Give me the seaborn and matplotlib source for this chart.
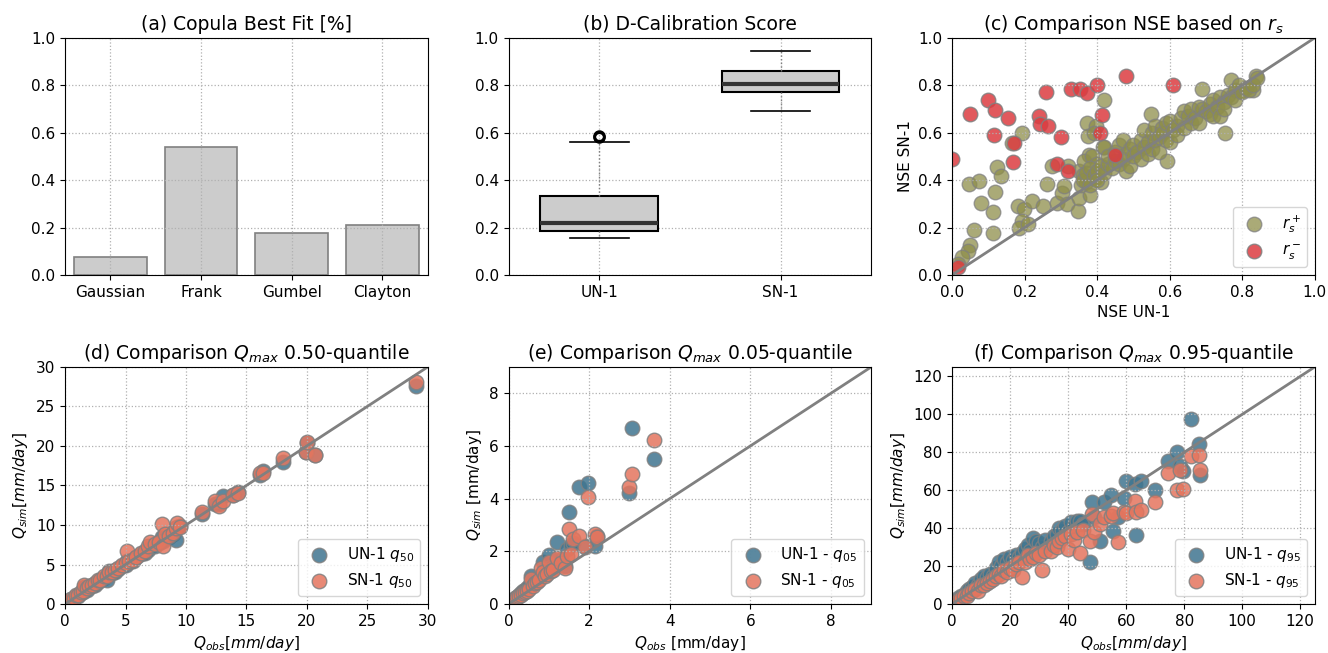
import numpy as np
import pandas as pd
import seaborn as sns
import matplotlib
matplotlib.use('Agg')
import matplotlib.pyplot as plt

plt.rcParams['xtick.labelsize'] = 11
plt.rcParams['ytick.labelsize'] = 11
plt.rcParams['axes.labelsize'] = 11

# (a) copula best fit
copulas = ['Gaussian', 'Frank', 'Gumbel', 'Clayton']
copula_share = [0.075, 0.54, 0.175, 0.21]

# (b) D-calibration scores
dcal_un = [0.155, 0.165, 0.18, 0.185, 0.20, 0.21, 0.22, 0.26, 0.30, 0.335, 0.56, 0.58, 0.588]
dcal_sn = [0.69, 0.74, 0.77, 0.79, 0.805, 0.83, 0.86, 0.90, 0.945]

# (c) NSE, r_s positive
nse_un_pos = [0.047, 0.074, 0.079, 0.061, 0.049, 0.044, 0.028, 0.017, 0.114, 0.114, 0.117, 0.123, 0.134,
              0.166, 0.192, 0.182, 0.198, 0.194, 0.184, 0.21, 0.219, 0.25, 0.262, 0.276, 0.289, 0.303,
              0.309, 0.317, 0.32, 0.347, 0.349, 0.372, 0.376, 0.38, 0.378, 0.42, 0.396, 0.39, 0.69,
              0.753, 0.594, 0.549, 0.77, 0.838, 0.83, 0.797,
              0.35, 0.355, 0.36, 0.365, 0.37, 0.385, 0.395, 0.40, 0.41, 0.415,
              0.36, 0.37, 0.38, 0.38, 0.39, 0.40, 0.40, 0.41, 0.42, 0.42, 0.43, 0.43, 0.44, 0.45, 0.45,
              0.46, 0.46, 0.47, 0.47, 0.48, 0.48, 0.49, 0.49, 0.50, 0.50, 0.51, 0.52, 0.52, 0.53, 0.53,
              0.54, 0.54, 0.55, 0.55, 0.56, 0.56, 0.57, 0.57, 0.58, 0.58, 0.59, 0.59, 0.60, 0.60, 0.61,
              0.62, 0.62, 0.63, 0.64, 0.64, 0.65, 0.66, 0.66, 0.67, 0.68, 0.68, 0.69, 0.70, 0.71, 0.71,
              0.72, 0.72, 0.73, 0.74, 0.74, 0.75, 0.75, 0.76, 0.77, 0.78, 0.78, 0.79, 0.80, 0.81, 0.82,
              0.83, 0.84]
nse_sn_pos = [0.382, 0.395, 0.303, 0.189, 0.126, 0.102, 0.074, 0.046, 0.266, 0.179, 0.352, 0.454, 0.418,
              0.555, 0.60, 0.291, 0.277, 0.228, 0.196, 0.214, 0.312, 0.291, 0.382, 0.46, 0.305, 0.347,
              0.375, 0.30, 0.46, 0.27, 0.326, 0.642, 0.588, 0.336, 0.508, 0.74, 0.628, 0.60, 0.785,
              0.60, 0.48, 0.68, 0.824, 0.838, 0.78, 0.775,
              0.44, 0.38, 0.42, 0.48, 0.39, 0.50, 0.41, 0.47, 0.39, 0.54,
              0.40, 0.43, 0.45, 0.38, 0.42, 0.44, 0.40, 0.46, 0.43, 0.54, 0.47, 0.50, 0.45, 0.48, 0.52,
              0.47, 0.55, 0.49, 0.57, 0.51, 0.44, 0.53, 0.46, 0.55, 0.50, 0.52, 0.57, 0.49, 0.61, 0.54,
              0.56, 0.51, 0.60, 0.53, 0.63, 0.57, 0.58, 0.52, 0.62, 0.60, 0.64, 0.57, 0.65, 0.56, 0.61,
              0.63, 0.59, 0.66, 0.62, 0.69, 0.67, 0.64, 0.70, 0.66, 0.71, 0.64, 0.70, 0.69, 0.72, 0.68,
              0.74, 0.67, 0.71, 0.75, 0.67, 0.73, 0.70, 0.76, 0.75, 0.78, 0.74, 0.80, 0.77, 0.79, 0.78,
              0.80, 0.83]
# (c) NSE, r_s negative
nse_un_neg = [0.0, 0.015, 0.049, 0.10, 0.117, 0.115, 0.154, 0.17, 0.168, 0.26, 0.24, 0.243, 0.264, 0.30,
              0.289, 0.32, 0.328, 0.353, 0.371, 0.40, 0.414, 0.409, 0.45, 0.48, 0.61]
nse_sn_neg = [0.49, 0.035, 0.68, 0.74, 0.695, 0.59, 0.66, 0.555, 0.478, 0.772, 0.672, 0.636, 0.628, 0.583,
              0.469, 0.44, 0.785, 0.785, 0.766, 0.80, 0.675, 0.597, 0.506, 0.838, 0.80]

# (d) Qmax 0.50 quantile
obs_50 = [0.1, 0.3, 0.5, 0.7, 0.9, 1.1, 1.3, 1.5, 1.6, 1.8, 2.0, 2.2, 2.5, 2.7, 2.9, 3.2, 3.5, 3.6, 3.9,
          4.1, 4.4, 4.7, 5.0, 5.1, 5.3, 5.6, 5.9, 6.3, 6.6, 6.9, 7.0, 7.4, 7.8, 8.0, 8.1, 8.3, 8.6, 8.9,
          9.2, 9.3, 9.5, 11.3, 12.4, 12.7, 13.1, 13.9, 14.3, 16.1, 16.4, 18.0, 19.9, 20.0, 20.7, 29.0]
un_50 = [0.2, 0.3, 0.6, 0.7, 1.0, 1.0, 1.4, 1.5, 2.1, 1.8, 2.1, 2.3, 2.4, 2.8, 3.0, 3.3, 3.0, 4.2, 3.9,
         4.1, 4.4, 4.8, 4.9, 5.4, 5.3, 5.5, 5.9, 6.3, 6.5, 6.8, 7.2, 7.3, 7.7, 8.5, 8.0, 8.4, 8.5, 8.8,
         8.1, 9.8, 9.9, 11.4, 12.7, 12.6, 13.7, 13.8, 14.2, 16.3, 16.8, 18.0, 19.2, 20.4, 18.8, 27.6]
sn_50 = [0.3, 0.4, 0.6, 0.8, 1.1, 1.2, 1.5, 1.6, 2.4, 2.0, 2.3, 2.4, 2.6, 3.0, 3.1, 3.5, 3.6, 4.1, 4.0,
         4.3, 4.5, 5.0, 5.2, 6.7, 5.4, 5.6, 6.0, 6.4, 6.7, 7.4, 7.8, 7.6, 7.8, 10.1, 7.3, 8.8, 8.6, 9.0,
         9.6, 10.2, 9.7, 11.7, 13.0, 12.4, 13.0, 13.8, 14.1, 16.6, 16.6, 18.5, 19.2, 20.5, 18.8, 28.1]

# (e) Qmax 0.05 quantile
obs_05 = [0.05, 0.10, 0.15, 0.20, 0.25, 0.30, 0.35, 0.40, 0.45, 0.50, 0.55, 0.60, 0.65, 0.70, 0.75, 0.80,
          0.85, 0.90, 0.95, 1.00, 1.05, 1.10, 1.20, 1.30, 1.40, 1.45, 1.50, 1.55, 1.60, 1.75, 1.90, 1.98,
          2.15, 2.20, 3.00, 3.07, 3.62]
un_05 = [0.08, 0.15, 0.22, 0.28, 0.35, 0.40, 0.48, 0.52, 0.60, 0.70, 1.05, 0.80, 0.85, 0.95, 1.00, 1.10,
         1.60, 1.20, 1.30, 1.85, 1.40, 1.35, 2.35, 1.70, 1.45, 2.10, 3.51, 2.25, 2.30, 4.46, 2.20, 4.61,
         2.19, 2.60, 4.21, 6.67, 5.51]
sn_05 = [0.06, 0.12, 0.18, 0.25, 0.30, 0.33, 0.42, 0.45, 0.50, 0.58, 0.95, 0.68, 0.78, 0.85, 0.90, 1.35,
         1.20, 1.05, 1.15, 1.60, 1.25, 1.28, 1.74, 1.55, 1.37, 1.81, 2.86, 1.90, 2.47, 2.57, 2.16, 4.08,
         2.67, 2.55, 4.46, 4.92, 6.23]

# (f) Qmax 0.95 quantile
obs_95 = [1, 2, 3, 4, 5, 6, 7, 8, 9, 10, 11, 12, 13, 14, 15, 16, 17, 18, 19, 20, 21, 22, 23, 24, 25, 26,
          27, 28, 29, 30, 31, 32, 34, 35, 36, 37, 38, 39, 40, 41, 42, 43, 44, 45, 47.4, 48.2, 49, 51, 52.2,
          54.8, 55.6, 57.3, 59.3, 60, 63, 63.5, 65.2, 70, 74.5, 77.7, 78.5, 79.7, 82.5, 85, 85.5]
un_95 = [1.5, 3, 4, 5, 7, 8, 9, 11, 10, 13, 15, 14, 16, 15, 19, 22, 20, 24, 22, 25, 23, 26, 25, 27, 29, 31,
         28, 35, 33, 32, 30, 34, 33, 36, 37, 40, 39, 41, 38, 43, 41, 44, 44, 42, 22, 53.6, 46, 33, 53.6,
         57.6, 38.3, 46, 55.9, 64.7, 63.4, 36.6, 64.7, 60.3, 75.2, 80.1, 72.9, 70, 97.7, 84.5, 68.2]
sn_95 = [1, 2, 3, 4, 4, 6, 7, 8, 7, 10, 10, 11, 12, 13, 15, 16, 15, 18, 17, 19, 18, 21, 22, 14, 22, 26,
         24, 25, 27, 26, 18, 28, 28, 31, 30, 33, 35, 36, 29, 37, 34, 38, 27, 39, 33, 47.6, 38, 42, 46,
         46.2, 48, 32.5, 48.3, 48, 54.5, 48.5, 49.4, 53.8, 69, 60.3, 70.5, 60.8, 78.1, 78.4, 70.8]

c_pos = '#8e8e4a'
c_neg = '#dc3c40'
c_un = '#3f7590'
c_sn = '#e4755e'
grid_kw = dict(linestyle=':', color='#b0b0b0', linewidth=0.9)
pt_kw = dict(s=110, edgecolor='gray', linewidth=1.0)
title_fs = 13.5

fig, axes = plt.subplots(2, 3, figsize=(13.28, 6.53), dpi=100)
plt.subplots_adjust(left=0.049, right=0.99, top=0.942, bottom=0.075, wspace=0.223, hspace=0.388)

# (a)
ax = axes[0, 0]
sns.barplot(x=copulas, y=copula_share, color='#cccccc', edgecolor='gray', linewidth=1.2, saturation=1, ax=ax)
ax.set_ylim(0, 1)
ax.set_title('(a) Copula Best Fit [%]', fontsize=title_fs)
ax.grid(True, **grid_kw)

# (b)
ax = axes[0, 1]
df_b = pd.DataFrame({'model': ['UN-1'] * len(dcal_un) + ['SN-1'] * len(dcal_sn),
                     'score': dcal_un + dcal_sn})
sns.boxplot(data=df_b, x='model', y='score', color='#cccccc', saturation=1, width=0.65,
            linecolor='black', linewidth=1.5, ax=ax,
            medianprops=dict(color='#333333', linewidth=3),
            whiskerprops=dict(linestyle=':', color='gray', linewidth=1),
            capprops=dict(color='black', linewidth=1.2),
            flierprops=dict(marker='o', markerfacecolor='none', markeredgecolor='black',
                            markeredgewidth=2, markersize=7))
ax.set_ylim(0, 1)
ax.set_xlabel('')
ax.set_ylabel('')
ax.set_title('(b) D-Calibration Score', fontsize=title_fs)
ax.grid(True, **grid_kw)

# (c)
ax = axes[0, 2]
sns.scatterplot(x=nse_un_pos, y=nse_sn_pos, color=c_pos, alpha=0.75, label='$r_s^+$', ax=ax, **pt_kw)
sns.scatterplot(x=nse_un_neg, y=nse_sn_neg, color=c_neg, alpha=0.85, label='$r_s^-$', ax=ax, **pt_kw)
ax.plot([0, 1], [0, 1], color='gray', linewidth=2)
ax.set_xlim(0, 1)
ax.set_ylim(0, 1)
ax.set_xlabel('NSE UN-1')
ax.set_ylabel('NSE SN-1')
ax.set_title('(c) Comparison NSE based on $r_s$', fontsize=title_fs)
ax.legend(loc='lower right', fontsize=11)
ax.grid(True, **grid_kw)

# (d)-(f)
panels = [
    (axes[1, 0], obs_50, un_50, sn_50, 30, 5, '(d) Comparison $Q_{max}$ 0.50-quantile',
     'UN-1 $q_{50}$', 'SN-1 $q_{50}$', '$Q_{obs}[mm/day]$', '$Q_{sim}[mm/day]$'),
    (axes[1, 1], obs_05, un_05, sn_05, 9, 2, '(e) Comparison $Q_{max}$ 0.05-quantile',
     'UN-1 - $q_{05}$', 'SN-1 - $q_{05}$', '$Q_{obs}$ [mm/day]', '$Q_{sim}$ [mm/day]'),
    (axes[1, 2], obs_95, un_95, sn_95, 125, 20, '(f) Comparison $Q_{max}$ 0.95-quantile',
     'UN-1 - $q_{95}$', 'SN-1 - $q_{95}$', '$Q_{obs}[mm/day]$', '$Q_{sim}[mm/day]$'),
]
for ax, obs, un, sn, lim, step, title, lab_un, lab_sn, xl, yl in panels:
    sns.scatterplot(x=obs, y=un, color=c_un, alpha=0.85, label=lab_un, ax=ax, **pt_kw)
    sns.scatterplot(x=obs, y=sn, color=c_sn, alpha=0.85, label=lab_sn, ax=ax, **pt_kw)
    ax.plot([0, lim], [0, lim], color='gray', linewidth=2)
    ax.set_xlim(0, lim)
    ax.set_ylim(0, lim)
    ticks = np.arange(0, lim + 0.01, step)
    ax.set_xticks(ticks)
    ax.set_yticks(ticks)
    ax.set_title(title, fontsize=title_fs)
    ax.set_xlabel(xl)
    ax.set_ylabel(yl)
    ax.legend(loc='lower right', fontsize=11)
    ax.grid(True, **grid_kw)

fig.savefig('out.png', dpi=100)
